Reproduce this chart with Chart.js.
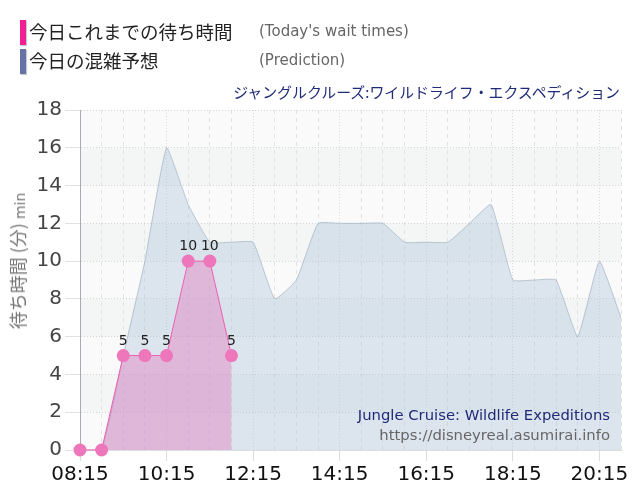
<!DOCTYPE html>
<html lang="ja">
<head>
<meta charset="utf-8">
<script src="https://cdn.jsdelivr.net/npm/chart.js@4"></script>
<style>
  html, body { margin: 0; padding: 0; background: #fff; }
  #wrap { position: relative; width: 640px; height: 500px; overflow: hidden; font-family: "DejaVu Sans", sans-serif; }
  #wrap canvas { position: absolute; left: 0; top: 0; }
  .key { position: absolute; left: 20px; width: 6px; height: 25px; box-shadow: 1px 1px 1px #ccc; }
  .jp { position: absolute; left: 29px; font: 18.5px "Noto Sans CJK JP", sans-serif; color: #222; white-space: nowrap; }
  .en { position: absolute; left: 259px; font-size: 15px; color: #666; white-space: nowrap; }
  .ride { position: absolute; right: 20px; top: 81px; font: 14.9px "Noto Sans CJK JP", sans-serif; color: #1f2a78; white-space: nowrap; }
  .mark { position: absolute; right: 30px; font-size: 14.8px; white-space: nowrap; }
  .ytitle { position: absolute; left: 17px; top: 261px; transform: translate(-50%, -50%) rotate(-90deg); font: 18px "Noto Sans CJK JP", sans-serif; color: #777; white-space: nowrap; }
  .ytitle span { font: 14px "DejaVu Sans", sans-serif; }
</style>
</head>
<body>
<div id="wrap">
  <canvas id="c" width="640" height="500"></canvas>
  <div class="key" style="top:20px;background:#f01f96"></div>
  <div class="jp" style="top:18px">今日これまでの待ち時間</div>
  <div class="en" style="top:22px">(Today's wait times)</div>
  <div class="key" style="top:49px;background:#6573a6"></div>
  <div class="jp" style="top:47px">今日の混雑予想</div>
  <div class="en" style="top:51px">(Prediction)</div>
  <div class="ride">ジャングルクルーズ:ワイルドライフ・エクスペディション</div>
  <div class="mark" style="top:406px;color:#1f2a78">Jungle Cruise: Wildlife Expeditions</div>
  <div class="mark" style="top:426px;color:#666">https://disneyreal.asumirai.info</div>
  <div class="ytitle">待ち時間 (分) <span>min</span></div>
</div>
<script>
const times = ['08:15','08:45','09:15','09:45','10:15','10:45','11:15','11:45','12:15','12:45','13:15','13:45','14:15','14:45','15:15','15:45','16:15','16:45','17:15','17:45','18:15','18:45','19:15','19:45','20:15','20:45'];
const todayWait = [0,0,5,5,5,10,10,5];
const prediction = [0,0,5,10,16,13,11,11,11,8,9,12,12,12,12,11,11,11,12,13,9,9,9,6,10,7];
const yTicks = [0,2,4,6,8,10,12,14,16,18];
const shadedBands = [[14,16],[10,12],[6,8],[2,4]];

// zebra bands behind the grid
const bands = {
  id: 'bands',
  beforeDraw(chart) {
    const { ctx, chartArea: a, scales: { y } } = chart;
    ctx.save();
    ctx.fillStyle = '#fafafa';
    ctx.fillRect(a.left, a.top, a.right - a.left, a.bottom - a.top);
    ctx.fillStyle = '#f4f6f5';
    shadedBands.forEach(([lo, hi]) => {
      ctx.fillRect(a.left, y.getPixelForValue(hi), a.right - a.left, y.getPixelForValue(lo) - y.getPixelForValue(hi));
    });
    ctx.restore();
  }
};

// small value labels above the pink points
const pointLabels = {
  id: 'pointLabels',
  afterDatasetsDraw(chart) {
    const { ctx } = chart;
    ctx.save();
    ctx.font = '14px "DejaVu Sans"';
    ctx.fillStyle = '#222';
    ctx.textAlign = 'center';
    chart.getDatasetMeta(0).data.forEach((p, i) => {
      if (todayWait[i] > 0) ctx.fillText(todayWait[i], p.x, p.y - 11);
    });
    ctx.restore();
  }
};

new Chart(document.getElementById('c'), {
  type: 'line',
  data: {
    labels: times,
    datasets: [
      { label: 'Today', data: todayWait, borderColor: '#ee5fb0', borderWidth: 1, backgroundColor: 'rgba(226,120,190,0.42)',
        fill: 'origin', tension: 0, pointRadius: 6.5, pointHoverRadius: 6.5, pointBackgroundColor: '#ee76bb', pointBorderWidth: 0, clip: false, order: 1 },
      { label: 'Prediction', data: prediction, borderColor: 'rgba(150,170,190,0.6)', borderWidth: 1, backgroundColor: 'rgba(170,195,215,0.38)',
        fill: 'origin', tension: 0.12, pointRadius: 0, order: 2 }
    ]
  },
  options: {
    responsive: false,
    animation: false,
    layout: { padding: { top: 110, right: 19, left: 0, bottom: 0 } },
    plugins: { legend: { display: false }, tooltip: { enabled: false } },
    scales: {
      x: {
        offset: false,
        afterFit(axis) { axis.height = 50; },
        grid: {
          color: ctx => ctx.index % 4 === 0 ? '#d8d8d8' : '#e2e2e2',
          tickColor: ctx => ctx.index % 4 === 0 ? '#ddd' : 'transparent',
          tickLength: 11, lineWidth: 1
        },
        border: { color: '#ddd', dash: ctx => ctx.index % 4 === 0 ? [1, 2] : [4, 4] },
        ticks: {
          autoSkip: false, maxRotation: 0, color: '#111', font: { size: 20, family: '"DejaVu Sans"' }, padding: 2,
          callback(v, i) { return i % 4 === 0 ? times[i] : ''; }
        }
      },
      y: {
        min: 0, max: 18,
        afterBuildTicks(axis) { axis.ticks = yTicks.map(value => ({ value })); },
        afterFit(axis) { axis.width = 80; },
        grid: { color: '#d4d4d4', tickColor: '#e2e2e2', tickLength: 15 },
        border: { color: '#a9a9b8', width: 1, dash: [1, 2] },
        ticks: { color: '#444', font: { size: 20, family: '"DejaVu Sans"' }, padding: 3 }
      }
    }
  },
  plugins: [bands, pointLabels]
});
</script>
</body>
</html>
